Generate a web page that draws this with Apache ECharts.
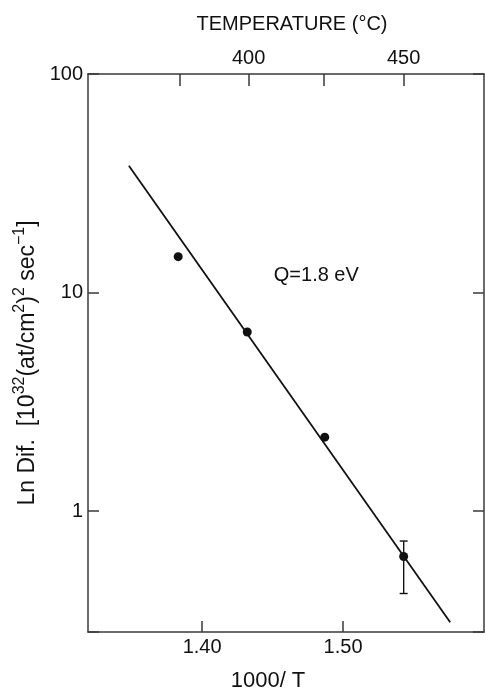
<!DOCTYPE html>
<html>
<head>
<meta charset="utf-8">
<script src="https://cdn.jsdelivr.net/npm/echarts@6/dist/echarts.min.js"></script>
<style>
  html, body { margin: 0; padding: 0; background: #fff; }
  #chart { width: 485px; height: 697px; }
</style>
</head>
<body>
<div id="chart"></div>
<script>
// measured points: 1000/T vs diffusion coefficient
const invT = [1.383, 1.432, 1.487, 1.543];
const diffusion = [14.6, 6.6, 2.18, 0.62];

// error bar on the last point
const errX = [1.543];
const errLow = [0.42];
const errHigh = [0.73];

// fitted line (Q = 1.8 eV)
const fitX = [1.348, 1.576];
const fitY = [38, 0.31];

// axes
const bottomTicks = [1.40, 1.50];
const topTickPos = [1.384, 1.433, 1.486, 1.543];
const topTickLabels = ['', '400', '', '450'];

const noteText = 'Q=1.8 eV';
const notePos = [1.481, 12.0];

const FONT = 'Liberation Sans';
const INK = '#111';
const LINE = '#3a3a3a';

const chart = echarts.init(document.getElementById('chart'));

const sharedX = { min: 1.319, max: 1.60, type: 'value', splitLine: { show: false } };
const sharedY = { min: 0.28, max: 100, type: 'log', logBase: 10, splitLine: { show: false } };

const option = {
    backgroundColor: '#fff',
    animation: false,
    grid: { left: 88, right: 1, top: 74, bottom: 64 },
    xAxis: [
        Object.assign({}, sharedX, {
            position: 'bottom',
            name: '1000/ T',
            nameLocation: 'middle',
            nameGap: 38,
            nameTextStyle: { fontFamily: FONT, fontSize: 22, color: INK, padding: [0, 36, 0, 0] },
            axisLine: { show: true, lineStyle: { color: LINE, width: 1.5 } },
            axisTick: { inside: true, length: 11, customValues: bottomTicks, lineStyle: { color: LINE, width: 1.5 } },
            axisLabel: {
                customValues: bottomTicks,
                margin: 5,
                fontFamily: FONT, fontSize: 20, color: INK,
                formatter: v => v.toFixed(2)
            }
        }),
        Object.assign({}, sharedX, {
            position: 'top',
            name: 'TEMPERATURE (°C)',
            nameLocation: 'middle',
            nameGap: 40,
            nameTextStyle: { fontFamily: FONT, fontSize: 20, color: INK, padding: [0, 0, 0, 12] },
            axisLine: { show: true, lineStyle: { color: LINE, width: 1.5 } },
            axisTick: { inside: true, length: 12, customValues: topTickPos, lineStyle: { color: LINE, width: 1.5 } },
            axisLabel: {
                customValues: topTickPos,
                margin: 6,
                fontFamily: FONT, fontSize: 20, color: INK,
                formatter: v => {
                    const i = topTickPos.findIndex(p => Math.abs(p - v) < 1e-6);
                    return i >= 0 ? topTickLabels[i] : '';
                }
            }
        })
    ],
    yAxis: [
        Object.assign({}, sharedY, {
            position: 'left',
            name: '{b|Ln Dif.  [10}{s|32}{b|(at/cm}{s|2}{b|)}{s|2}{b| sec}{s|−1}{b|]}',
            nameLocation: 'middle',
            nameRotate: 90,
            nameGap: 42,
            nameTextStyle: {
                fontFamily: FONT, fontSize: 23, color: INK,
                padding: [0, 20, 0, 0],
                rich: {
                    b: { fontFamily: FONT, fontSize: 23, color: INK, lineHeight: 27, verticalAlign: 'bottom' },
                    s: { fontFamily: FONT, fontSize: 16, color: INK, lineHeight: 18, verticalAlign: 'top' }
                }
            },
            axisLine: { show: true, lineStyle: { color: LINE, width: 1.5 } },
            axisTick: { inside: true, length: 11, lineStyle: { color: LINE, width: 1.5 } },
            axisLabel: {
                margin: 5,
                fontFamily: FONT, fontSize: 20, color: INK,
                formatter: v => {
                    const l = Math.log10(v);
                    return Math.abs(l - Math.round(l)) < 1e-6 ? String(Math.round(v)) : '';
                }
            }
        }),
        Object.assign({}, sharedY, {
            position: 'right',
            axisLine: { show: true, lineStyle: { color: LINE, width: 1.5 } },
            axisTick: { inside: true, length: 11, lineStyle: { color: LINE, width: 1.5 } },
            axisLabel: { show: false }
        })
    ],
    series: [
        {
            name: 'fit',
            type: 'line',
            data: fitX.map((x, i) => [x, fitY[i]]),
            showSymbol: false,
            lineStyle: { color: INK, width: 1.8 },
            z: 2
        },
        {
            name: 'data',
            type: 'scatter',
            data: invT.map((x, i) => [x, diffusion[i]]),
            symbol: 'circle',
            symbolSize: 9,
            itemStyle: { color: INK, opacity: 1 },
            z: 3
        },
        {
            name: 'error',
            type: 'custom',
            data: errX.map((x, i) => [x, errLow[i], errHigh[i]]),
            encode: { x: 0, y: [1, 2] },
            renderItem: (params, api) => {
                const lo = api.coord([api.value(0), api.value(1)]);
                const hi = api.coord([api.value(0), api.value(2)]);
                const w = 4;
                const st = { stroke: INK, lineWidth: 1.4 };
                return {
                    type: 'group',
                    children: [
                        { type: 'line', shape: { x1: lo[0], y1: lo[1], x2: hi[0], y2: hi[1] }, style: st },
                        { type: 'line', shape: { x1: lo[0] - w, y1: lo[1], x2: lo[0] + w, y2: lo[1] }, style: st },
                        { type: 'line', shape: { x1: hi[0] - w, y1: hi[1], x2: hi[0] + w, y2: hi[1] }, style: st }
                    ]
                };
            },
            z: 3
        },
        {
            name: 'note',
            type: 'scatter',
            data: [notePos],
            symbolSize: 0,
            silent: true,
            itemStyle: { opacity: 1 },
            label: {
                show: true,
                position: 'inside',
                formatter: noteText,
                fontFamily: FONT, fontSize: 20, color: INK, opacity: 1
            }
        }
    ]
};

chart.setOption(option);
</script>
</body>
</html>
